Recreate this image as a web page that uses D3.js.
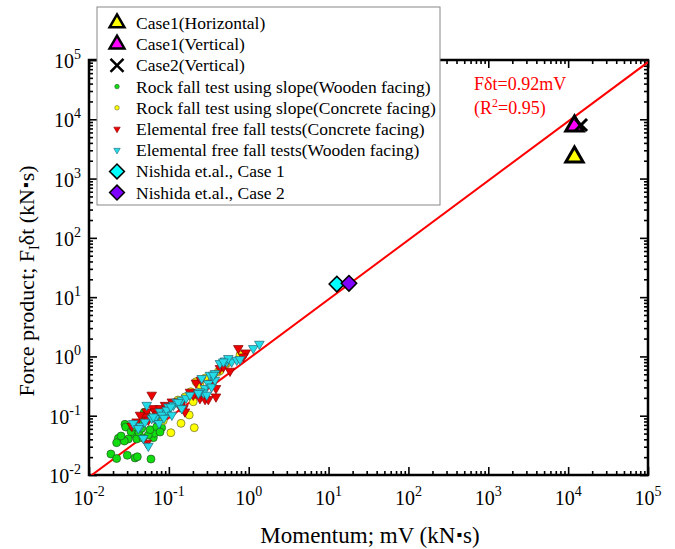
<!DOCTYPE html>
<html><head><meta charset="utf-8">
<script src="https://cdn.jsdelivr.net/npm/d3@7"></script>
<style>body{margin:0;background:#fff}svg{display:block}text{font-family:"Liberation Serif","Times New Roman",serif}</style>
</head><body><svg id="c" width="675" height="549"></svg>
<script>
// ---- data (momentum mV, force product Fδt), kN·s ----
const rockWood = [[0.0188,0.0226],[0.0222,0.019],[0.0302,0.0215],[0.0377,0.0194],[0.0403,0.0203],[0.0597,0.0186],[0.0282,0.0716],[0.0288,0.0645],[0.0233,0.0416],[0.0222,0.0351],[0.0311,0.0405],[0.0277,0.0374],[0.0377,0.0486],[0.0396,0.0405],[0.0492,0.114],[0.0528,0.103],[0.0639,0.0426],[0.0657,0.0505],[0.0813,0.0628],[0.0336,0.0537],[0.0423,0.0525],[0.0457,0.0613],[0.0553,0.0472],[0.0581,0.0581],[0.0704,0.0652],[0.0436,0.0724],[0.0502,0.0846],[0.0615,0.0914],[0.0731,0.0846],[0.0356,0.0645],[0.0775,0.0531],[0.0474,0.0421],[0.0252,0.0455]];
const rockConcrete = [[0.0851,0.0824],[0.106,0.0517],[0.142,0.0744],[0.208,0.0628],[0.18,0.103],[0.188,0.254],[0.202,0.172],[0.416,0.552],[0.36,0.486],[0.459,0.716],[0.53,0.765],[0.436,0.574],[0.505,0.716],[0.219,0.374],[0.245,0.33],[0.159,0.207],[0.13,0.184],[0.109,0.151],[0.284,0.432],[0.778,1.06]];
const freeConcrete = [[0.0395,0.0792],[0.0343,0.067],[0.0518,0.0904],[0.0528,0.117],[0.0638,0.133],[0.0775,0.133],[0.114,0.162],[0.131,0.172],[0.152,0.133],[0.061,0.224],[0.0528,0.0347],[0.0502,0.0962],[0.0553,0.0846],[0.067,0.0904],[0.0895,0.151],[0.109,0.172],[0.147,0.168],[0.219,0.36],[0.245,0.196],[0.284,0.189],[0.312,0.189],[0.389,0.29],[0.202,0.224],[0.436,0.63],[0.481,0.67],[0.741,1.37],[0.916,1.155],[0.855,0.989],[0.389,0.209],[0.252,0.4],[0.138,0.142],[0.094,0.125],[0.159,0.117],[0.067,0.117],[0.0436,0.103],[0.0731,0.107],[0.184,0.251],[0.583,0.568],[0.337,0.356]];
const freeWood = [[0.0528,0.151],[0.0553,0.0308],[0.0359,0.0745],[0.0444,0.067],[0.061,0.0904],[0.0705,0.0962],[0.0775,0.117],[0.094,0.11],[0.0984,0.142],[0.114,0.151],[0.125,0.172],[0.138,0.162],[0.145,0.184],[0.258,0.428],[0.284,0.29],[0.312,0.352],[0.327,0.485],[0.343,0.308],[0.378,0.4],[0.27,0.244],[0.245,0.254],[0.53,0.815],[0.612,0.815],[0.708,0.869],[0.778,0.893],[1.14,1.37],[1.36,1.62],[0.067,0.0904],[0.0813,0.103],[0.094,0.125],[0.106,0.142],[0.131,0.168],[0.145,0.133],[0.109,0.103],[0.0753,0.0745],[0.0414,0.0612],[0.0479,0.0416],[0.234,0.239],[0.298,0.224],[0.505,0.847],[0.555,0.929],[0.436,0.765],[0.378,0.519],[0.0638,0.0962],[0.36,0.485],[0.481,0.815],[0.164,0.199],[0.184,0.224],[0.0502,0.0783],[0.0869,0.0914]];
const case1Horizontal = [[12000,2310]];
const case1Vertical = [[12000,7700]];
const case2Vertical = [[14500,8000]];
const nishida1 = [[12.7,16.6]];
const nishida2 = [[18.0,17.1]];
const fitSlope = 0.92;
const fitRange = [1e-2, 1e5];
const tickExponents = [-2,-1,0,1,2,3,4,5];
const legendLabels = ["Case1(Horizontal)","Case1(Vertical)","Case2(Vertical)","Rock fall test using slope(Wooden facing)","Rock fall test using slope(Concrete facing)","Elemental free fall tests(Concrete facing)","Elemental free fall tests(Wooden facing)","Nishida et.al., Case 1","Nishida et.al., Case 2"];

// ---- layout ----
const L=89, R=648, T=60, B=475;
const svg = d3.select("#c");
const x = d3.scaleLog().domain([1e-2,1e5]).range([L,R]);
const y = d3.scaleLog().domain([1e-2,1e5]).range([B,T]);
const majors = tickExponents.map(e=>Math.pow(10,e));
const minors = [];
for (let e=-2;e<5;e++) for (let k=2;k<10;k++) minors.push(k*Math.pow(10,e));

function styleAxis(g){ g.select(".domain").remove(); g.selectAll("line").attr("stroke","#000").attr("stroke-width",1.6); }
[[d3.axisBottom(x),`translate(0,${B})`],[d3.axisTop(x),`translate(0,${T})`],[d3.axisLeft(y),`translate(${L},0)`],[d3.axisRight(y),`translate(${R},0)`]].forEach(([ax,tr])=>{
  svg.append("g").attr("transform",tr).call(ax.tickValues(majors).tickSize(-8).tickFormat("")).call(styleAxis);
  svg.append("g").attr("transform",tr).call(ax.tickValues(minors).tickSize(-4).tickFormat("")).call(styleAxis);
});
svg.append("rect").attr("x",L).attr("y",T).attr("width",R-L).attr("height",B-T).attr("fill","none").attr("stroke","#000").attr("stroke-width",2.5);

// tick labels
function pow10(t,e){ t.append("tspan").text("10"); t.append("tspan").attr("dy",-9).attr("font-size",14).text(e); }
tickExponents.forEach(e=>{
  const v=Math.pow(10,e);
  svg.append("text").attr("x",x(v)).attr("y",B+30).attr("text-anchor","middle").attr("font-size",20).call(t=>pow10(t,e));
  svg.append("text").attr("x",81).attr("y",y(v)+8).attr("text-anchor","end").attr("font-size",20).call(t=>pow10(t,e));
});

// axis titles
const xt = svg.append("text").attr("x",370).attr("y",543).attr("text-anchor","middle").attr("font-size",23);
xt.append("tspan").text("Momentum; mV (kN");
xt.append("tspan").attr("font-size",16).attr("dy",-3).attr("dx",1).text("\u25AA");
xt.append("tspan").attr("dy",3).attr("dx",1).text("s)");
const yt = svg.append("text").attr("transform","translate(34,281) rotate(-90)").attr("text-anchor","middle").attr("font-size",22);
yt.append("tspan").text("Force product; F");
yt.append("tspan").attr("font-size",14).attr("dy",5).text("I");
yt.append("tspan").attr("dy",-5).text("\u03B4t (kN");
yt.append("tspan").attr("font-size",16).attr("dy",-3).attr("dx",1).text("\u25AA");
yt.append("tspan").attr("dy",3).attr("dx",1).text("s)");

// clip
svg.append("clipPath").attr("id","clip").append("rect").attr("x",L).attr("y",T).attr("width",R-L).attr("height",B-T);
const plot = svg.append("g").attr("clip-path","url(#clip)");

// fit line
plot.append("line").attr("x1",x(fitRange[0])).attr("y1",y(fitSlope*fitRange[0])).attr("x2",x(fitRange[1])).attr("y2",y(fitSlope*fitRange[1])).attr("stroke","#ff0000").attr("stroke-width",2);

// symbols
const circ = d3.symbol().type(d3.symbolCircle);
const tri = d3.symbol().type(d3.symbolTriangle);
const sq = d3.symbol().type(d3.symbolSquare);
function crossPath(s){ return `M${-s},${-s}L${s},${s}M${-s},${s}L${s},${-s}`; }

function points(data, pathFn, rot, fill, stroke, sw){
  plot.append("g").selectAll("path").data(data).join("path")
    .attr("d",pathFn)
    .attr("transform",d=>`translate(${x(d[0])},${y(d[1])}) rotate(${rot})`)
    .attr("fill",fill).attr("stroke",stroke).attr("stroke-width",sw);
}
points(rockWood, circ.size(50)(), 0, "#11dd11", "#225522", 0.7);
points(rockConcrete, circ.size(50)(), 0, "#ffff00", "#666633", 0.7);
points(freeConcrete, tri.size(40)(), 180, "#ee0000", "#880000", 0.7);
points(freeWood, tri.size(40)(), 180, "#22dde8", "#226677", 0.7);
points(nishida1, sq.size(120)(), 45, "#00ffff", "#000", 1.5);
points(nishida2, sq.size(120)(), 45, "#8000ff", "#000", 1.5);
points(case1Horizontal, tri.size(130)(), 0, "#ffff00", "#000", 3);
points(case1Vertical, tri.size(130)(), 0, "#ff00ff", "#000", 3);
points(case2Vertical, crossPath(6), 0, "none", "#000", 3);

// annotation
svg.append("text").attr("x",474).attr("y",90).attr("fill","#ff0000").attr("font-size",18).text("F\u03B4t=0.92mV");
const r2 = svg.append("text").attr("x",474).attr("y",114).attr("fill","#ff0000").attr("font-size",18);
r2.append("tspan").text("(R");
r2.append("tspan").attr("font-size",12).attr("dy",-7).text("2");
r2.append("tspan").attr("dy",7).text("=0.95)");

// legend
const lg = svg.append("g");
lg.append("rect").attr("x",97).attr("y",7).attr("width",343).attr("height",198).attr("fill","#fff").attr("stroke","#888").attr("stroke-width",1);
const legendMarks = [
  [tri.size(95)(),0,"#ffff00","#000",2.5],
  [tri.size(95)(),0,"#ff00ff","#000",2.5],
  [crossPath(6.5),0,"none","#000",2.5],
  [circ.size(16)(),0,"#11dd11","#225522",0.6],
  [circ.size(16)(),0,"#ffff00","#666633",0.6],
  [tri.size(18)(),180,"#ee0000","#880000",0.6],
  [tri.size(18)(),180,"#22dde8","#226677",0.6],
  [sq.size(110)(),45,"#00ffff","#000",1.5],
  [sq.size(110)(),45,"#8000ff","#000",1.5]
];
legendLabels.forEach((lab,i)=>{
  const by = 29 + i*21.2;
  const m = legendMarks[i];
  lg.append("path").attr("d",m[0]).attr("transform",`translate(117,${by-6}) rotate(${m[1]})`).attr("fill",m[2]).attr("stroke",m[3]).attr("stroke-width",m[4]);
  lg.append("text").attr("x",136).attr("y",by).attr("font-size",17.5).text(lab);
});
</script></body></html>
